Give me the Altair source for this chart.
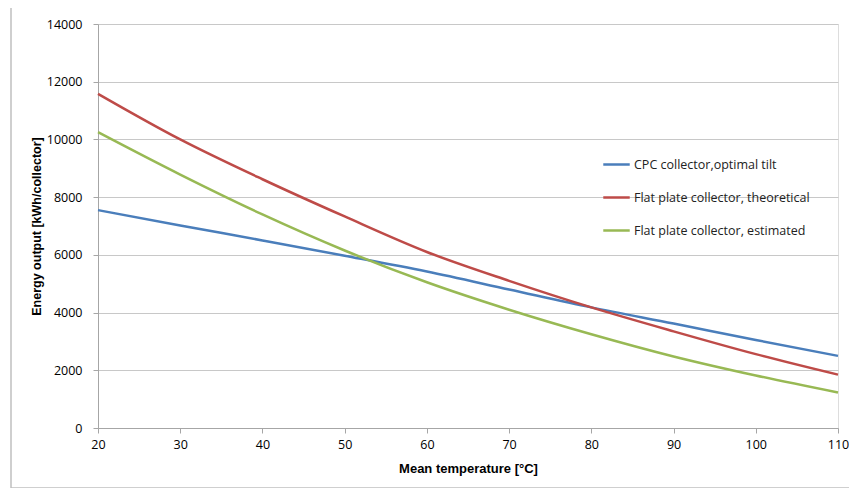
import altair as alt
import pandas as pd

temps = [20, 30, 40, 50, 60, 70, 80, 90, 100, 110]
cpc = [7550, 7020, 6500, 5970, 5420, 4800, 4180, 3620, 3050, 2500]
flat_theo = [11580, 10000, 8620, 7330, 6100, 5100, 4180, 3350, 2560, 1850]
flat_est = [10250, 8780, 7400, 6150, 5050, 4100, 3250, 2480, 1820, 1230]

series_names = [
    "CPC collector,optimal tilt",
    "Flat plate collector, theoretical",
    "Flat plate collector, estimated",
]
colors = ["#4a7ebb", "#be4b48", "#98b954"]

rows = []
for name, vals in zip(series_names, [cpc, flat_theo, flat_est]):
    for t, v in zip(temps, vals):
        rows.append({"temp": t, "value": v, "series": name})
df = pd.DataFrame(rows)

FONT = "Open Sans"

lines = alt.Chart(df).mark_line(strokeWidth=2.5, interpolate="monotone").encode(
    x=alt.X(
        "temp:Q",
        scale=alt.Scale(domain=[20, 110], nice=False),
        axis=alt.Axis(
            title="Mean temperature [°C]",
            values=temps,
            format="d",
            grid=False,
            labelFlush=False,
            tickSize=5,
            labelPadding=5,
            labelFontSize=12.5,
            labelFont=FONT,
            titlePadding=12,
            titleFontSize=13,
            domainColor="#a6a6a6",
            tickColor="#a6a6a6",
        ),
    ),
    y=alt.Y(
        "value:Q",
        scale=alt.Scale(domain=[0, 14000], nice=False),
        axis=alt.Axis(
            title="Energy output [kWh/collector]",
            values=list(range(0, 14001, 2000)),
            format="d",
            grid=True,
            labelFlush=False,
            gridColor="#c8c8c8",
            tickSize=5,
            labelPadding=11,
            labelFontSize=12.5,
            labelFont=FONT,
            titlePadding=3,
            titleFontSize=12.5,
            domainColor="#a6a6a6",
            tickColor="#a6a6a6",
        ),
    ),
    color=alt.Color(
        "series:N",
        sort=series_names,
        scale=alt.Scale(domain=series_names, range=colors),
        legend=alt.Legend(
            title=None,
            orient="none",
            legendX=504,
            legendY=126,
            symbolType="stroke",
            symbolStrokeWidth=2.5,
            symbolSize=700,
            rowPadding=12,
            labelFontSize=12.5,
            labelFont=FONT,
            labelColor="#222222",
            labelLimit=400,
            padding=0,
            labelOffset=3,
        ),
    ),
)

border = alt.Chart(pd.DataFrame({"k": [0]})).mark_rect(
    fill=None, stroke="#c0c0c0", strokeWidth=1.5, clip=False
).encode(
    x=alt.value(-87), x2=alt.value(770), y=alt.value(-17), y2=alt.value(464)
)

chart = alt.layer(border, lines).properties(
    width=740,
    height=404,
    autosize=alt.AutoSizeParams(type="none"),
    padding={"left": 90, "top": 16, "right": 11, "bottom": 60},
).configure_view(stroke=None).configure_axis(
    labelFont=FONT,
    titleFont=FONT,
    titleFontWeight="bold",
    labelColor="#333333",
    titleColor="#111111",
).configure(background="white")

chart.save("out.html", embed_options={"renderer": "svg", "actions": False})
